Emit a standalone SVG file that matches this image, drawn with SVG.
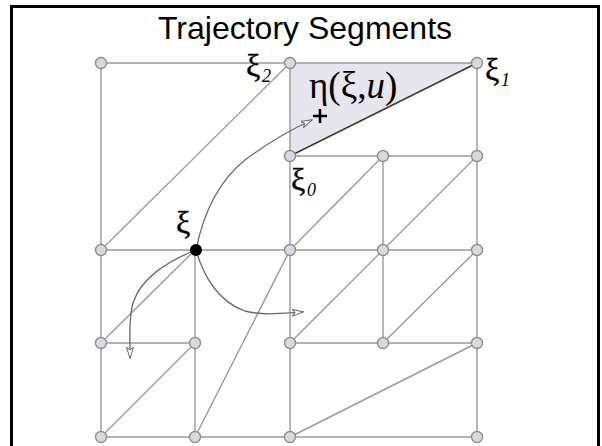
<svg xmlns="http://www.w3.org/2000/svg" width="602" height="446" viewBox="0 0 602 446">
<style>
.e{stroke:#9a9a9a;stroke-width:1.4;fill:none}
.c{stroke:#6a6a6a;stroke-width:1.3;fill:none}
.n{fill:#d9d9e1;stroke:#8e8e8e;stroke-width:1.4}
.g{font-family:"Liberation Serif","Times New Roman",serif;fill:#000;stroke:#000;stroke-width:0.4}
.s{font-family:"Liberation Serif","Times New Roman",serif;font-style:italic;fill:#000}
</style>
<defs>
<marker id="ah" viewBox="0 0 12 8" refX="11" refY="4" markerWidth="12" markerHeight="8" markerUnits="userSpaceOnUse" orient="auto">
<path d="M0,0.5 L11.5,4 L0,7.5 L3,4 Z" fill="#fff" stroke="#6a6a6a" stroke-width="1"/>
</marker>
</defs>
<rect x="11.5" y="6.5" width="587" height="460" fill="#fff" stroke="#000" stroke-width="3"/>
<text x="305" y="39" text-anchor="middle" font-family="Liberation Sans, Arial, sans-serif" font-size="32" fill="#000">Trajectory Segments</text>
<polygon points="290,63 477,63 290,156" fill="#e7e5ed"/>
<g id="connectors">
<path class="e" d="M101,63 H477 M290,156 H477 M101,250 H477 M101,343 H195 M290,343 H477 M101,437 H477"/>
<path class="e" d="M101,63 V437 M195,250 V437 M290,63 V437 M383,156 V343 M477,63 V437"/>
<path class="e" d="M101,250 L290,63 M290,250 L383,156 M383,250 L477,156 M290,343 L383,250 M383,343 L477,250 M101,343 L195,250 M101,437 L195,343 M195,437 L290,250 M290,437 L477,343"/>
<path d="M290,156 L477,63" stroke="#3a3a3a" stroke-width="1.6" fill="none"/>
<path class="c" d="M196,250 C204,210 220,180 245,160 C265,145 290,130 312,120" marker-end="url(#ah)"/>
<path class="c" d="M196,250 C203,275 218,302 245,311 C265,316 285,313 303,312" marker-end="url(#ah)"/>
<path class="c" d="M196,250 C165,262 140,280 133,303 C129,318 130,335 130,358" marker-end="url(#ah)"/>
</g>
<g id="n_0_0"><circle class="n" cx="101" cy="63" r="5.5"/></g>
<g id="n_2_0"><circle class="n" cx="290" cy="63" r="5.5"/></g>
<g id="n_4_0"><circle class="n" cx="477" cy="63" r="5.5"/></g>
<g id="n_2_1"><circle class="n" cx="290" cy="156" r="5.5"/></g>
<g id="n_3_1"><circle class="n" cx="383" cy="156" r="5.5"/></g>
<g id="n_4_1"><circle class="n" cx="477" cy="156" r="5.5"/></g>
<g id="n_0_2"><circle class="n" cx="101" cy="250" r="5.5"/></g>
<g id="n_2_2"><circle class="n" cx="290" cy="250" r="5.5"/></g>
<g id="n_3_2"><circle class="n" cx="383" cy="250" r="5.5"/></g>
<g id="n_4_2"><circle class="n" cx="477" cy="250" r="5.5"/></g>
<g id="n_0_3"><circle class="n" cx="101" cy="343" r="5.5"/></g>
<g id="n_1_3"><circle class="n" cx="195" cy="343" r="5.5"/></g>
<g id="n_2_3"><circle class="n" cx="290" cy="343" r="5.5"/></g>
<g id="n_3_3"><circle class="n" cx="383" cy="343" r="5.5"/></g>
<g id="n_4_3"><circle class="n" cx="477" cy="343" r="5.5"/></g>
<g id="n_0_4"><circle class="n" cx="101" cy="437" r="5.5"/></g>
<g id="n_1_4"><circle class="n" cx="195" cy="437" r="5.5"/></g>
<g id="n_2_4"><circle class="n" cx="290" cy="437" r="5.5"/></g>
<g id="n_4_4"><circle class="n" cx="477" cy="437" r="5.5"/></g>
<g id="xi"><circle cx="196" cy="250" r="6" fill="#000"/><text class="g" x="176" y="233" font-size="32">ξ</text></g>
<g id="xi2"><text class="g" x="246" y="76" font-size="32">ξ</text><text class="s" x="262" y="82" font-size="18">2</text></g>
<g id="xi1"><text class="g" x="485" y="80" font-size="32">ξ</text><text class="s" x="501" y="86" font-size="18">1</text></g>
<g id="xi0"><text class="g" x="291" y="190" font-size="32">ξ</text><text class="s" x="307" y="196" font-size="18">0</text></g>
<g id="eta"><text x="309" y="98" font-family="Liberation Serif, Times New Roman, serif" font-size="37" fill="#000">η(ξ,<tspan font-style="italic">u</tspan>)</text>
<path d="M313,116 H327 M320,109 V123" stroke="#000" stroke-width="2.6"/></g>
</svg>
